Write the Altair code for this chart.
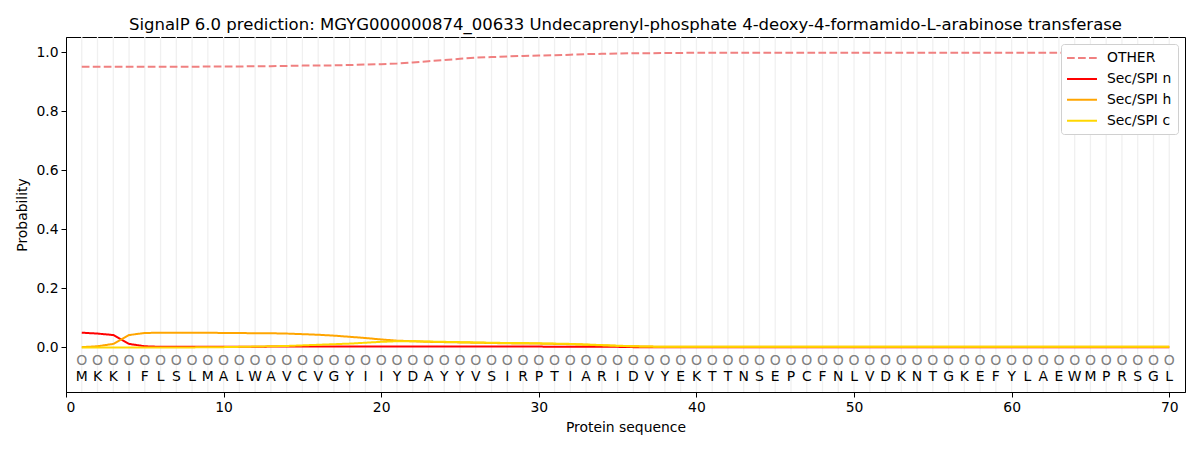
import altair as alt
import pandas as pd

residues = list("MKKIFLSLMALWAVCVGYIIYDAYYVSIRPTIARIDVYEKTTNSEPCFNLVDKNTGKEFYLAEWMPRSGL")
positions = list(range(1, len(residues) + 1))

other = [0.951, 0.951, 0.951, 0.951, 0.951, 0.951, 0.951, 0.951, 0.952, 0.952,
         0.952, 0.953, 0.953, 0.954, 0.955, 0.955, 0.956, 0.957, 0.959, 0.960,
         0.962, 0.966, 0.970, 0.974, 0.978, 0.982, 0.984, 0.986, 0.988, 0.989,
         0.990, 0.992, 0.994, 0.995, 0.996, 0.997, 0.997, 0.998, 0.998, 0.999] + [0.999] * 30

sec_n = [0.050, 0.047, 0.042, 0.012, 0.004, 0.002, 0.002, 0.002, 0.002, 0.002,
         0.002, 0.002, 0.003, 0.003, 0.003, 0.003, 0.003, 0.003, 0.003, 0.003,
         0.003, 0.003, 0.003, 0.003, 0.003, 0.003, 0.003, 0.003, 0.003, 0.003,
         0.002, 0.002, 0.002, 0.002, 0.002] + [0.001] * 35

sec_h = [0.001, 0.004, 0.012, 0.042, 0.049, 0.050, 0.050, 0.050, 0.050, 0.049,
         0.049, 0.048, 0.048, 0.047, 0.045, 0.043, 0.040, 0.036, 0.032, 0.027,
         0.023, 0.021, 0.019, 0.018, 0.017, 0.016, 0.015, 0.014, 0.013, 0.013,
         0.012, 0.011, 0.009, 0.007, 0.005, 0.004, 0.003] + [0.002] * 33

sec_c = [0.000, 0.000, 0.000, 0.000, 0.000, 0.000, 0.000, 0.000, 0.001, 0.001,
         0.002, 0.003, 0.004, 0.005, 0.007, 0.009, 0.011, 0.013, 0.016, 0.019,
         0.021, 0.021, 0.020, 0.019, 0.018, 0.017, 0.016, 0.015, 0.015, 0.014,
         0.013, 0.012, 0.010, 0.008, 0.006, 0.004, 0.003] + [0.002] * 33

series_names = ["OTHER", "Sec/SPI n", "Sec/SPI h", "Sec/SPI c"]
series_values = [other, sec_n, sec_h, sec_c]
series_colors = ["#f08080", "#ff0000", "#ffa500", "#ffd700"]

rows = []
for order, (name, vals) in enumerate(zip(series_names, series_values)):
    for p, v in zip(positions, vals):
        rows.append({"pos": p, "prob": v, "series": name, "order": order})
lines_df = pd.DataFrame(rows)

seq_df = pd.DataFrame({"pos": positions, "res": residues, "mark": ["O"] * len(residues)})

FONT = "DejaVu Sans"

x_scale = alt.Scale(domain=[0, 71], nice=False, zero=False)
y_scale = alt.Scale(domain=[-0.151, 1.052], nice=False, zero=False)

grid = alt.Chart(seq_df).mark_rule(color="#f0f0f0", strokeWidth=1.3).encode(
    x=alt.X("pos:Q", scale=x_scale)
)

lines = alt.Chart(lines_df).mark_line(strokeWidth=2).encode(
    x=alt.X("pos:Q", scale=x_scale,
            axis=alt.Axis(values=list(range(0, 71, 10)), title="Protein sequence", grid=False)),
    y=alt.Y("prob:Q", scale=y_scale,
            axis=alt.Axis(values=[0, 0.2, 0.4, 0.6, 0.8, 1.0], format=".1f",
                          title="Probability", grid=False)),
    color=alt.Color("series:N",
                    scale=alt.Scale(domain=series_names, range=series_colors),
                    sort=series_names,
                    legend=alt.Legend(title=None, orient="top-right")),
    strokeDash=alt.StrokeDash("series:N",
                              scale=alt.Scale(domain=series_names,
                                              range=[[7.7, 3.3], [1, 0], [1, 0], [1, 0]]),
                              sort=series_names,
                              legend=alt.Legend(title=None, orient="top-right")),
    order=alt.Order("order:Q"),
)

circles = alt.Chart(seq_df).mark_text(fontSize=14, color="#808080", font=FONT, baseline="middle").encode(
    x=alt.X("pos:Q", scale=x_scale),
    y=alt.datum(-0.045),
    text="mark:N",
)

letters = alt.Chart(seq_df).mark_text(fontSize=13.9, color="black", font=FONT, baseline="middle").encode(
    x=alt.X("pos:Q", scale=x_scale),
    y=alt.datum(-0.101),
    text="res:N",
)

chart = alt.layer(grid, lines, circles, letters).properties(
    width=1119,
    height=355,
    title=alt.TitleParams(
        "SignalP 6.0 prediction: MGYG000000874_00633 Undecaprenyl-phosphate 4-deoxy-4-formamido-L-arabinose transferase",
        fontSize=16.5, fontWeight="normal", font=FONT, color="black", offset=3, anchor="middle"),
    autosize=alt.AutoSizeParams(type="none"),
    padding={"left": 58, "top": 29, "right": 7, "bottom": 50},
).configure_view(
    stroke="black", strokeWidth=1
).configure_axis(
    labelFont=FONT, titleFont=FONT, labelFontSize=13.9, titleFontSize=13.9,
    labelColor="black", titleColor="black", titleFontWeight="normal",
    domainColor="black", tickColor="black", tickSize=5, labelPadding=3,
).configure_axisY(
    titlePadding=6
).configure_axisX(
    titlePadding=7
).configure_legend(
    labelFont=FONT, labelFontSize=13.9, labelColor="black",
    symbolType="M-2.14,0H2.14", symbolSize=196, symbolStrokeWidth=2,
    symbolOffset=7, rowPadding=5.9, labelOffset=17, padding=6, offset=7,
    fillColor="white", strokeColor="#d0d0d0", cornerRadius=3,
)

chart.save("out.html", embed_options={"renderer": "svg", "actions": False})
